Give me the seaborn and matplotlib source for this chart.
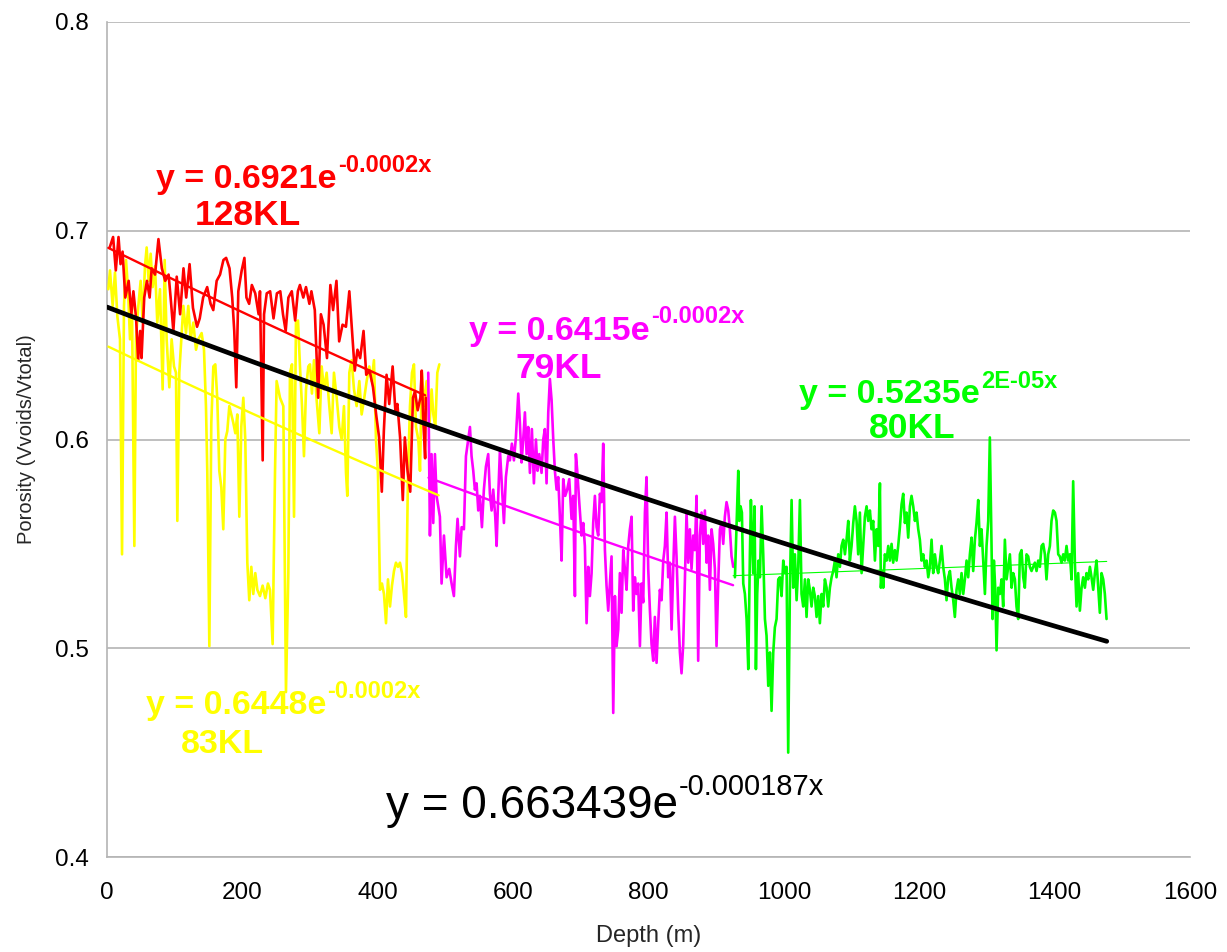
import numpy as np
import pandas as pd
import matplotlib
matplotlib.use("Agg")
import matplotlib.pyplot as plt
import seaborn as sns

# ---------------- data ----------------
red_depth = [4, 9, 13, 17, 20, 23, 27, 32, 36, 39, 43, 46, 49, 51, 55, 59, 63, 66, 71, 76,
             81, 86, 91, 94, 98, 103, 108, 113, 117, 122, 127, 133, 137, 142, 148, 153, 157, 162, 167, 172,
             176, 181, 185, 188, 191, 194, 199, 203, 206, 210, 214, 219, 224, 226, 230, 232, 236, 241, 246, 251,
             256, 260, 264, 268, 273, 278, 282, 285, 290, 294, 299, 302, 307, 312, 316, 320, 325, 330, 334, 339,
             343, 348, 353, 358, 362, 366, 370, 374, 379, 383, 388, 393, 398, 402, 406, 409, 413, 417, 422, 426,
             429, 433, 437, 440, 444, 448, 452, 455, 459, 463, 465, 467, 470, 471]
red_por = [0.692, 0.697, 0.681, 0.697, 0.684, 0.690, 0.668, 0.676, 0.660, 0.671, 0.658, 0.638, 0.652, 0.639, 0.668, 0.676, 0.668, 0.682, 0.679, 0.696,
           0.682, 0.676, 0.679, 0.668, 0.652, 0.678, 0.660, 0.682, 0.668, 0.684, 0.663, 0.654, 0.658, 0.668, 0.673, 0.665, 0.662, 0.676, 0.679, 0.686,
           0.687, 0.682, 0.668, 0.652, 0.625, 0.671, 0.681, 0.687, 0.668, 0.665, 0.674, 0.670, 0.660, 0.671, 0.590, 0.660, 0.670, 0.671, 0.658, 0.670,
           0.671, 0.660, 0.652, 0.668, 0.671, 0.657, 0.671, 0.674, 0.668, 0.673, 0.665, 0.671, 0.662, 0.620, 0.660, 0.655, 0.639, 0.674, 0.662, 0.676,
           0.647, 0.655, 0.654, 0.671, 0.652, 0.633, 0.643, 0.639, 0.652, 0.631, 0.633, 0.625, 0.611, 0.601, 0.575, 0.604, 0.631, 0.617, 0.635, 0.614,
           0.617, 0.601, 0.571, 0.601, 0.585, 0.575, 0.620, 0.623, 0.614, 0.620, 0.633, 0.611, 0.591, 0.620]

yellow_depth = [2.0, 4.4, 8.4, 11.8, 15.3, 19.2, 22.2, 25.1, 28.1, 31.0, 34.0, 36.9, 40.4, 42.8, 46.3, 49.7, 52.7, 56.1, 58.6, 61.5,
                64.5, 67.5, 70.9, 74.3, 78.3, 82.2, 85.2, 88.1, 92.1, 95.5, 99.0, 101.9, 103.9, 106.8, 109.8, 112.8, 116.7, 120.1, 123.6, 127.5,
                131.5, 134.9, 139.8, 143.3, 146.2, 148.2, 151.2, 154.1, 157.1, 160.0, 163.0, 165.9, 168.9, 171.8, 174.8, 177.7, 180.7, 183.7, 186.6, 189.6,
                192.5, 195.5, 198.4, 201.4, 204.3, 207.3, 210.2, 213.2, 216.1, 219.1, 222.1, 226.0, 229.9, 233.9, 237.8, 240.8, 244.7, 248.2, 250.6, 255.6,
                260.5, 264.4, 267.9, 270.3, 273.3, 276.3, 279.2, 282.2, 285.1, 288.1, 291.0, 294.0, 297.4, 299.9, 302.8, 305.8, 309.7, 313.7, 317.1, 320.6,
                324.5, 328.4, 331.9, 335.3, 339.3, 343.2, 346.7, 350.1, 353.1, 355.0, 358.0, 361.4, 364.9, 368.8, 372.8, 376.2, 379.7, 383.6, 387.5, 391.0,
                394.4, 397.4, 400.3, 403.3, 406.2, 409.2, 412.2, 415.1, 418.1, 421.0, 424.0, 426.9, 429.9, 432.8, 435.8, 438.7, 441.7, 444.7, 447.6, 450.6,
                453.5, 456.5, 459.9, 462.4, 465.3, 468.3, 472.2, 476.2, 479.6, 482.1, 485.0, 488.0, 491.0]
yellow_por = [0.672, 0.681, 0.664, 0.680, 0.659, 0.648, 0.545, 0.664, 0.686, 0.672, 0.648, 0.664, 0.549, 0.648, 0.664, 0.676, 0.656, 0.683, 0.692, 0.676,
              0.689, 0.673, 0.683, 0.656, 0.672, 0.624, 0.686, 0.648, 0.625, 0.648, 0.635, 0.632, 0.561, 0.632, 0.648, 0.664, 0.651, 0.664, 0.648, 0.656,
              0.643, 0.648, 0.651, 0.643, 0.616, 0.584, 0.501, 0.608, 0.635, 0.636, 0.619, 0.585, 0.577, 0.557, 0.600, 0.604, 0.616, 0.612, 0.608, 0.603,
              0.612, 0.563, 0.606, 0.620, 0.600, 0.541, 0.523, 0.539, 0.526, 0.536, 0.528, 0.525, 0.530, 0.524, 0.531, 0.528, 0.502, 0.584, 0.628, 0.620,
              0.616, 0.479, 0.536, 0.632, 0.636, 0.563, 0.656, 0.657, 0.635, 0.616, 0.592, 0.624, 0.635, 0.636, 0.622, 0.638, 0.619, 0.603, 0.635, 0.624,
              0.632, 0.616, 0.603, 0.632, 0.620, 0.606, 0.600, 0.616, 0.584, 0.573, 0.632, 0.638, 0.624, 0.616, 0.628, 0.612, 0.619, 0.628, 0.635, 0.628,
              0.638, 0.600, 0.584, 0.528, 0.531, 0.526, 0.512, 0.533, 0.520, 0.530, 0.537, 0.541, 0.539, 0.541, 0.536, 0.526, 0.515, 0.584, 0.616, 0.632,
              0.636, 0.606, 0.600, 0.585, 0.632, 0.616, 0.628, 0.606, 0.624, 0.612, 0.606, 0.632, 0.636]

magenta_depth = [474.6, 477.1, 479.5, 482.0, 484.5, 486.9, 491.8, 494.3, 497.8, 501.7, 505.6, 509.1, 512.5, 515.5, 517.9, 521.4, 523.9, 527.3, 530.3, 533.7,
                 536.2, 538.6, 541.1, 543.5, 546.0, 548.5, 550.9, 553.9, 556.8, 559.8, 563.2, 565.7, 568.2, 570.6, 573.6, 575.6, 578.0, 580.5, 583.4, 586.4,
                 589.3, 592.8, 595.2, 598.2, 601.2, 604.1, 607.6, 610.0, 612.5, 614.9, 617.4, 619.9, 622.3, 624.8, 627.7, 630.7, 633.7, 636.1, 638.6, 642.0,
                 644.5, 646.9, 649.4, 651.9, 654.3, 656.8, 659.3, 661.7, 664.2, 666.6, 669.1, 671.6, 674.0, 677.0, 679.9, 682.9, 686.3, 688.8, 691.3, 692.7,
                 694.7, 697.7, 701.1, 703.6, 706.0, 708.5, 711.0, 713.4, 715.9, 718.3, 720.8, 723.3, 725.7, 728.2, 730.7, 733.1, 735.6, 738.0, 740.5, 743.0,
                 745.4, 747.9, 750.4, 752.8, 755.3, 757.7, 760.2, 762.7, 765.1, 767.6, 770.1, 772.5, 775.0, 777.4, 779.9, 782.4, 784.8, 787.3, 789.7, 792.2,
                 794.7, 797.1, 799.6, 802.1, 804.5, 807.0, 809.4, 811.9, 814.4, 816.8, 819.3, 821.8, 824.2, 826.7, 829.1, 831.6, 834.1, 836.5, 839.0, 841.4,
                 843.9, 846.4, 848.8, 851.3, 853.8, 856.2, 858.7, 861.1, 863.6, 866.1, 868.5, 871.0, 873.4, 875.9, 878.4, 880.8, 883.3, 885.8, 888.2, 890.7,
                 893.2, 895.6, 898.1, 900.5, 903.0, 905.5, 907.9, 910.4, 912.8, 915.3, 917.8, 920.2, 922.7, 925.2]
magenta_por = [0.632, 0.554, 0.593, 0.560, 0.593, 0.573, 0.563, 0.531, 0.554, 0.534, 0.538, 0.531, 0.525, 0.549, 0.562, 0.544, 0.558, 0.557, 0.592, 0.600,
               0.606, 0.592, 0.585, 0.576, 0.579, 0.566, 0.573, 0.558, 0.576, 0.587, 0.593, 0.574, 0.566, 0.576, 0.563, 0.549, 0.573, 0.595, 0.578, 0.560,
               0.582, 0.592, 0.590, 0.598, 0.590, 0.601, 0.622, 0.608, 0.589, 0.600, 0.613, 0.593, 0.606, 0.584, 0.605, 0.579, 0.600, 0.585, 0.593, 0.584,
               0.600, 0.605, 0.579, 0.613, 0.629, 0.619, 0.600, 0.585, 0.576, 0.582, 0.563, 0.542, 0.581, 0.573, 0.576, 0.581, 0.562, 0.573, 0.525, 0.593,
               0.585, 0.570, 0.554, 0.560, 0.549, 0.512, 0.539, 0.525, 0.536, 0.560, 0.573, 0.558, 0.554, 0.574, 0.570, 0.598, 0.547, 0.530, 0.518, 0.531,
               0.544, 0.469, 0.525, 0.501, 0.509, 0.536, 0.517, 0.547, 0.538, 0.528, 0.549, 0.557, 0.563, 0.518, 0.534, 0.526, 0.531, 0.501, 0.531, 0.522,
               0.565, 0.582, 0.538, 0.518, 0.502, 0.494, 0.515, 0.493, 0.512, 0.528, 0.523, 0.542, 0.549, 0.565, 0.534, 0.541, 0.509, 0.538, 0.563, 0.544,
               0.518, 0.498, 0.488, 0.502, 0.533, 0.565, 0.541, 0.557, 0.538, 0.554, 0.547, 0.573, 0.494, 0.554, 0.565, 0.550, 0.566, 0.541, 0.554, 0.528,
               0.557, 0.550, 0.538, 0.501, 0.531, 0.557, 0.560, 0.550, 0.563, 0.570, 0.566, 0.557, 0.544, 0.539]

green_depth = [927.7, 932.6, 934.1, 936.0, 938.0, 940.0, 942.4, 944.9, 947.4, 949.8, 951.3, 953.3, 954.7, 956.7, 958.7, 960.6, 962.6, 964.6, 967.1, 969.5,
               972.0, 974.4, 976.9, 979.4, 981.8, 984.3, 986.7, 989.2, 991.7, 994.1, 996.6, 999.1, 1001.5, 1004.0, 1006.4, 1008.9, 1011.4, 1013.8, 1016.3, 1018.8,
               1021.2, 1023.7, 1026.1, 1028.6, 1031.1, 1033.5, 1036.0, 1038.4, 1040.9, 1043.4, 1045.8, 1048.3, 1050.8, 1053.2, 1055.7, 1058.1, 1060.6, 1063.1, 1065.5, 1068.0,
               1070.5, 1072.9, 1075.4, 1077.8, 1080.3, 1082.8, 1085.2, 1087.7, 1090.2, 1092.6, 1095.1, 1097.5, 1100.0, 1102.5, 1104.9, 1107.4, 1109.8, 1112.3, 1114.8, 1117.2,
               1119.7, 1122.2, 1124.6, 1127.1, 1129.5, 1132.0, 1134.5, 1136.9, 1139.4, 1141.9, 1143.3, 1145.3, 1146.8, 1149.2, 1151.7, 1154.2, 1156.6, 1159.1, 1161.5, 1164.0,
               1166.5, 1168.9, 1171.4, 1173.9, 1176.3, 1178.8, 1181.2, 1183.7, 1186.2, 1188.6, 1191.1, 1193.6, 1196.0, 1198.5, 1200.9, 1203.4, 1205.9, 1208.3, 1210.8, 1213.3,
               1215.7, 1218.2, 1220.6, 1223.1, 1225.6, 1228.0, 1230.5, 1232.9, 1235.4, 1237.9, 1240.3, 1242.8, 1245.3, 1247.7, 1250.2, 1252.6, 1255.1, 1257.6, 1260.0, 1262.5,
               1265.0, 1267.4, 1269.9, 1272.3, 1274.8, 1277.3, 1279.7, 1282.2, 1284.6, 1287.1, 1289.6, 1292.0, 1294.5, 1297.0, 1299.4, 1301.9, 1304.3, 1306.8, 1308.3, 1310.3,
               1312.2, 1314.2, 1316.7, 1319.1, 1321.6, 1324.0, 1326.5, 1329.0, 1331.4, 1333.9, 1336.4, 1338.8, 1341.3, 1343.7, 1346.2, 1348.7, 1351.1, 1353.6, 1356.0, 1358.5,
               1361.0, 1363.4, 1365.9, 1368.4, 1370.8, 1373.3, 1375.7, 1378.2, 1380.7, 1383.1, 1385.6, 1388.0, 1390.5, 1393.0, 1395.4, 1397.9, 1400.4, 1402.8, 1405.3, 1407.7,
               1410.2, 1412.7, 1415.1, 1417.6, 1420.1, 1422.5, 1425.0, 1427.4, 1429.9, 1432.4, 1434.8, 1437.3, 1439.8, 1442.2, 1444.7, 1447.1, 1449.6, 1452.1, 1454.5, 1457.0,
               1459.5, 1461.9, 1464.4, 1466.8, 1469.3, 1471.8, 1474.2, 1476.7]
green_por = [0.534, 0.585, 0.561, 0.568, 0.565, 0.531, 0.526, 0.514, 0.490, 0.545, 0.571, 0.549, 0.536, 0.568, 0.490, 0.526, 0.542, 0.534, 0.568, 0.545,
             0.514, 0.506, 0.482, 0.498, 0.470, 0.498, 0.510, 0.514, 0.533, 0.534, 0.525, 0.542, 0.536, 0.539, 0.450, 0.529, 0.571, 0.529, 0.545, 0.523,
             0.539, 0.571, 0.526, 0.520, 0.533, 0.515, 0.533, 0.528, 0.520, 0.529, 0.525, 0.515, 0.525, 0.512, 0.526, 0.520, 0.533, 0.529, 0.520, 0.529,
             0.534, 0.537, 0.542, 0.534, 0.545, 0.539, 0.549, 0.552, 0.545, 0.552, 0.561, 0.542, 0.549, 0.560, 0.568, 0.561, 0.545, 0.565, 0.536, 0.549,
             0.563, 0.568, 0.561, 0.566, 0.557, 0.561, 0.542, 0.557, 0.549, 0.579, 0.529, 0.537, 0.529, 0.545, 0.542, 0.549, 0.542, 0.550, 0.541, 0.547,
             0.542, 0.549, 0.558, 0.569, 0.574, 0.560, 0.565, 0.553, 0.568, 0.573, 0.568, 0.561, 0.565, 0.557, 0.552, 0.542, 0.545, 0.539, 0.542, 0.534,
             0.539, 0.552, 0.536, 0.545, 0.539, 0.536, 0.542, 0.549, 0.539, 0.533, 0.523, 0.534, 0.537, 0.529, 0.523, 0.515, 0.528, 0.533, 0.526, 0.536,
             0.526, 0.533, 0.542, 0.534, 0.545, 0.553, 0.537, 0.552, 0.560, 0.571, 0.549, 0.557, 0.542, 0.526, 0.549, 0.561, 0.601, 0.549, 0.514, 0.542,
             0.529, 0.499, 0.529, 0.526, 0.533, 0.520, 0.552, 0.533, 0.539, 0.545, 0.529, 0.536, 0.533, 0.520, 0.514, 0.545, 0.547, 0.534, 0.529, 0.545,
             0.544, 0.539, 0.537, 0.539, 0.541, 0.537, 0.542, 0.539, 0.549, 0.550, 0.545, 0.533, 0.545, 0.549, 0.561, 0.566, 0.565, 0.561, 0.545, 0.544,
             0.541, 0.545, 0.542, 0.549, 0.542, 0.545, 0.533, 0.580, 0.541, 0.520, 0.536, 0.518, 0.529, 0.534, 0.529, 0.536, 0.533, 0.539, 0.534, 0.528,
             0.536, 0.542, 0.529, 0.517, 0.536, 0.533, 0.526, 0.514]

# exponential trend lines: (a, b, start depth, end depth)
red_fit = (0.6921, -0.00023, 2, 470)
yellow_fit = (0.6448, -0.00024, 2, 490)
magenta_fit = (0.6415, -0.000206, 475, 925)
green_fit = (0.5235, 0.000023, 925, 1477)
all_fit = (0.663439, -0.000187, 0, 1477)

RED, YEL, MAG, GRN = "#FF0000", "#FFFF00", "#FF00FF", "#00FF00"
AXIS_GREY = "#b4b4b4"

# ---------------- figure ----------------
sns.set_style("white")
plt.rcParams["font.family"] = ["Liberation Sans", "DejaVu Sans"]

fig = plt.figure(figsize=(12.27, 9.52), dpi=100)
ax = fig.add_axes([107 / 1227, 95 / 952, 1083 / 1227, 835 / 952])

series = [
    (yellow_depth, yellow_por, YEL),
    (red_depth, red_por, RED),
    (magenta_depth, magenta_por, MAG),
    (green_depth, green_por, GRN),
]
for d, p, c in series:
    df = pd.DataFrame({"depth": d, "por": p})
    sns.lineplot(data=df, x="depth", y="por", sort=False, estimator=None,
                 color=c, lw=1.9, ax=ax, zorder=3)

fits = [
    (yellow_fit, YEL, 1.7),
    (red_fit, RED, 1.7),
    (magenta_fit, MAG, 1.7),
    (green_fit, GRN, 0.8),
    (all_fit, "black", 3.4),
]
for (a, b, x0, x1), c, w in fits:
    xx = np.linspace(x0, x1, 50)
    sns.lineplot(x=xx, y=a * np.exp(b * xx), color=c, lw=w, ax=ax, zorder=4)

ax.set_xlim(0, 1600)
ax.set_ylim(0.4, 0.8)
ax.set_xticks(np.arange(0, 1601, 200))
ax.set_yticks([0.4, 0.5, 0.6, 0.7, 0.8])
ax.set_yticklabels(["0.4", "0.5", "0.6", "0.7", "0.8"])
ax.yaxis.grid(True, color=AXIS_GREY, lw=1.2, zorder=0)
ax.xaxis.grid(False)
for s in ["top", "right"]:
    ax.spines[s].set_visible(False)
for s in ["left", "bottom"]:
    ax.spines[s].set_color(AXIS_GREY)
    ax.spines[s].set_linewidth(1.2)
ax.tick_params(axis="both", which="major", direction="out", length=7,
               width=1.2, color=AXIS_GREY, labelsize=17.5, pad=6, labelcolor="black")
ax.tick_params(axis="x", pad=11)

ax.set_xlabel("Depth (m)", fontsize=17, labelpad=15)
ax.set_ylabel("Porosity (Vvoids/Vtotal)", fontsize=14.5, labelpad=14)

# ---------------- equation labels ----------------
def eq(x, y, ysup, main, sup, color, size, supsize, weight):
    ax.text(x, y, main, color=color, fontsize=size, fontweight=weight,
            ha="right", va="baseline", zorder=6)
    ax.text(x + 2, ysup, sup, color=color, fontsize=supsize, fontweight=weight,
            ha="left", va="baseline", zorder=6)

eq(339.7, 0.7205, 0.7281, "y = 0.6921e", "-0.0002x", RED, 24.5, 17, "bold")
ax.text(208.3, 0.7028, "128KL", color=RED, fontsize=25.5, fontweight="bold", ha="center", va="baseline")

eq(802.0, 0.6477, 0.6558, "y = 0.6415e", "-0.0002x", MAG, 24.5, 17, "bold")
ax.text(667.7, 0.6295, "79KL", color=MAG, fontsize=25.5, fontweight="bold", ha="center", va="baseline")

eq(1289.5, 0.6175, 0.6247, "y = 0.5235e", "2E-05x", GRN, 24.5, 17, "bold")
ax.text(1189.0, 0.6007, "80KL", color=GRN, fontsize=25.5, fontweight="bold", ha="center", va="baseline")

eq(323.5, 0.4685, 0.4760, "y = 0.6448e", "-0.0002x", YEL, 24.5, 17, "bold")
ax.text(169.9, 0.4500, "83KL", color=YEL, fontsize=24.5, fontweight="bold", ha="center", va="baseline")

eq(843.4, 0.4187, 0.4297, "y = 0.663439e", "-0.000187x", "black", 33, 21, "normal")

fig.savefig("out.png", dpi=100, facecolor="white")
